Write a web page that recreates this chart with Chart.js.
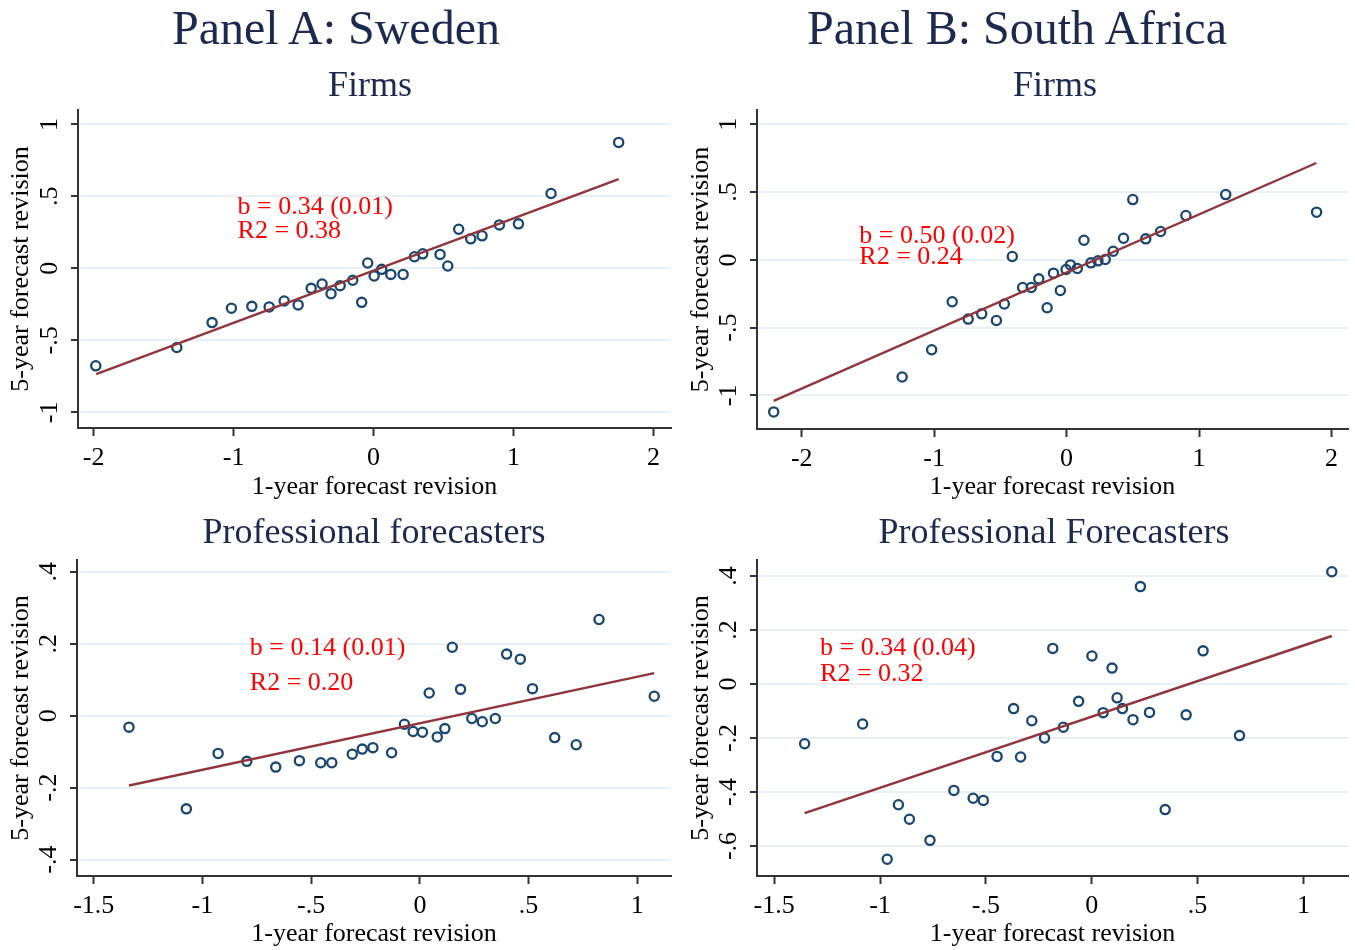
<!DOCTYPE html>
<html>
<head>
<meta charset="utf-8">
<script src="https://cdn.jsdelivr.net/npm/chart.js@4.4.1/dist/chart.umd.min.js"></script>
<style>
  html, body { margin: 0; padding: 0; background: #ffffff; }
  #wrap { position: relative; width: 1355px; height: 950px; overflow: hidden;
          font-family: "Liberation Serif", "Times New Roman", serif; }
  canvas { position: absolute; left: 0; top: 0; }
  .t { position: absolute; white-space: nowrap; color: #1b2a4e; line-height: 1;
       transform: translateX(-50%); z-index: 2; }
  .main { font-size: 48px; }
  .sub { font-size: 36px; }
</style>
</head>
<body>
<div id="wrap">
  <canvas id="cAF" width="1355" height="950"></canvas>
  <canvas id="cBF" width="1355" height="950"></canvas>
  <canvas id="cAP" width="1355" height="950"></canvas>
  <canvas id="cBP" width="1355" height="950"></canvas>
  <div class="t main" style="left:336px; top:4px;">Panel A: Sweden</div>
  <div class="t main" style="left:1017px; top:4px;">Panel B: South Africa</div>
  <div class="t sub" style="left:370px; top:66px;">Firms</div>
  <div class="t sub" style="left:1055px; top:66px;">Firms</div>
  <div class="t sub" style="left:374px; top:513px;">Professional forecasters</div>
  <div class="t sub" style="left:1054px; top:513px;">Professional Forecasters</div>
</div>
<script>
// ---- Panel A: Sweden, firms (binned revisions) ----
const swFirmsX = [-1.985, -1.406, -1.154, -1.016, -0.870, -0.746, -0.639, -0.539, -0.446, -0.368,
                  -0.304, -0.239, -0.149, -0.085, -0.042, 0.004, 0.058, 0.123, 0.211, 0.292,
                  0.351, 0.475, 0.530, 0.608, 0.694, 0.775, 0.899, 1.035, 1.268, 1.751];
const swFirmsY = [-0.677, -0.550, -0.377, -0.277, -0.264, -0.268, -0.227, -0.254, -0.139, -0.109,
                  -0.176, -0.120, -0.083, -0.236, 0.037, -0.053, -0.007, -0.042, -0.042, 0.081,
                  0.101, 0.097, 0.016, 0.272, 0.205, 0.226, 0.302, 0.309, 0.520, 0.875];
const swFirmsFitX = [-1.982, 1.751];
const swFirmsFitY = [-0.735, 0.619];
const swFirmsNote = ['b = 0.34 (0.01)', 'R2 = 0.38'];

// ---- Panel B: South Africa, firms ----
const saFirmsX = [-2.212, -1.242, -1.019, -0.864, -0.743, -0.641, -0.530, -0.470, -0.410, -0.332,
                  -0.267, -0.210, -0.147, -0.099, -0.047, -0.004, 0.029, 0.081, 0.131, 0.184,
                  0.237, 0.292, 0.352, 0.430, 0.500, 0.598, 0.710, 0.901, 1.202, 1.888];
const saFirmsY = [-1.122, -0.864, -0.663, -0.309, -0.437, -0.398, -0.447, -0.326, 0.025, -0.204,
                  -0.204, -0.140, -0.353, -0.098, -0.226, -0.071, -0.037, -0.064, 0.145, -0.022,
                  -0.007, 0.003, 0.064, 0.160, 0.445, 0.155, 0.209, 0.327, 0.482, 0.352];
const saFirmsFitX = [-2.212, 1.886];
const saFirmsFitY = [-1.041, 0.715];
const saFirmsNote = ['b = 0.50 (0.02)', 'R2 = 0.24'];

// ---- Panel A: Sweden, professional forecasters ----
const swProX = [-1.338, -1.074, -0.928, -0.796, -0.663, -0.554, -0.456, -0.405, -0.311, -0.265,
                -0.216, -0.130, -0.071, -0.031, 0.012, 0.043, 0.080, 0.115, 0.149, 0.187,
                0.239, 0.287, 0.347, 0.399, 0.462, 0.518, 0.620, 0.719, 0.824, 1.078];
const swProY = [-0.032, -0.259, -0.105, -0.127, -0.143, -0.125, -0.131, -0.131, -0.107, -0.093,
                -0.089, -0.103, -0.024, -0.044, -0.046, 0.063, -0.059, -0.036, 0.190, 0.073,
                -0.008, -0.017, -0.008, 0.171, 0.157, 0.075, -0.061, -0.081, 0.267, 0.054];
const swProFitX = [-1.338, 1.078];
const swProFitY = [-0.194, 0.118];
const swProNote = ['b = 0.14 (0.01)', 'R2 = 0.20'];

// ---- Panel B: South Africa, professional forecasters ----
const saProX = [-1.356, -1.082, -0.966, -0.913, -0.861, -0.764, -0.651, -0.560, -0.512, -0.447,
                -0.369, -0.336, -0.283, -0.223, -0.184, -0.134, -0.062, 0.001, 0.054, 0.096,
                0.120, 0.145, 0.195, 0.230, 0.273, 0.347, 0.446, 0.526, 0.698, 1.134];
const saProY = [-0.221, -0.148, -0.649, -0.447, -0.501, -0.579, -0.394, -0.423, -0.431, -0.268,
                -0.091, -0.270, -0.136, -0.200, 0.132, -0.160, -0.064, 0.104, -0.106, 0.059,
                -0.051, -0.091, -0.132, 0.361, -0.105, -0.465, -0.114, 0.123, -0.191, 0.416];
const saProFitX = [-1.356, 1.134];
const saProFitY = [-0.478, 0.178];
const saProNote = ['b = 0.34 (0.04)', 'R2 = 0.32'];

// ---- axis ticks and their labels ----
const firmsXTicks = [-2, -1, 0, 1, 2];
const firmsXLabels = ['-2', '-1', '0', '1', '2'];
const firmsYTicks = [-1, -0.5, 0, 0.5, 1];
const firmsYLabels = ['-1', '-.5', '0', '.5', '1'];
const proXTicks = [-1.5, -1, -0.5, 0, 0.5, 1];
const proXLabels = ['-1.5', '-1', '-.5', '0', '.5', '1'];
const swProYTicks = [-0.4, -0.2, 0, 0.2, 0.4];
const swProYLabels = ['-.4', '-.2', '0', '.2', '.4'];
const saProYTicks = [-0.6, -0.4, -0.2, 0, 0.2, 0.4];
const saProYLabels = ['-.6', '-.4', '-.2', '0', '.2', '.4'];

const xTitle = '1-year forecast revision';
const yTitle = '5-year forecast revision';

// ---- drawing ----
const SERIF = '"Liberation Serif", "Times New Roman", serif';
Chart.defaults.font.family = SERIF;
Chart.defaults.color = '#000000';

const NAVY = '#1a476f';
const MAROON = '#90353b';
const AXIS = '#333333';
const GRID = '#e8f0f3';

// red regression note, anchored in data units
const notePlugin = {
  id: 'regNote',
  afterDatasetsDraw(chart, args, opts) {
    if (!opts || !opts.lines) return;
    const { ctx, scales } = chart;
    ctx.save();
    ctx.font = '26px ' + SERIF;
    ctx.fillStyle = '#ff0000';
    ctx.textAlign = 'left';
    ctx.textBaseline = 'alphabetic';
    const px = scales.x.getPixelForValue(opts.x);
    opts.lines.forEach((line, i) => {
      ctx.fillText(line, px, scales.y.getPixelForValue(opts.y[i]));
    });
    ctx.restore();
  }
};

function pts(xs, ys) { return xs.map((v, i) => ({ x: v, y: ys[i] })); }

function panel(id, p) {
  const [L, T, R, B] = p.area;      // plot-region box on the page
  const yW = L - p.originX;         // width reserved for the y axis
  const xH = p.xAxisH;              // height reserved for the x axis
  new Chart(document.getElementById(id), {
    type: 'scatter',
    data: {
      datasets: [
        { type: 'line', data: pts(p.fitX, p.fitY), borderColor: MAROON, borderWidth: 2.4,
          pointRadius: 0, fill: false, tension: 0 },
        { type: 'scatter', data: pts(p.xs, p.ys), pointStyle: 'circle', pointRadius: 4.6,
          borderWidth: 2.3, borderColor: NAVY, backgroundColor: 'rgba(0,0,0,0)' }
      ]
    },
    options: {
      responsive: false, animation: false, events: [],
      layout: { padding: { left: p.originX, top: T, right: 1355 - R, bottom: 950 - B - xH } },
      plugins: { legend: { display: false }, tooltip: { enabled: false },
                 regNote: { lines: p.note, x: p.noteX, y: p.noteY } },
      scales: {
        x: {
          type: 'linear', position: 'bottom', min: p.xMin, max: p.xMax,
          afterBuildTicks: s => { s.ticks = p.xTicks.map(v => ({ value: v })); },
          afterFit: s => { s.height = xH; },
          grid: { display: true, drawOnChartArea: false, drawTicks: true, tickLength: 8,
                  tickColor: AXIS, tickWidth: 2 },
          border: { display: true, color: AXIS, width: 2 },
          ticks: { autoSkip: false, maxRotation: 0, minRotation: 0, padding: 7,
                   font: { size: 26 }, color: '#000',
                   callback: (v, i) => p.xLabels[i] },
          title: { display: true, text: xTitle, font: { size: 26 }, color: '#000',
                   padding: { top: 0, bottom: 0 } }
        },
        y: {
          type: 'linear', position: 'left', min: p.yMin, max: p.yMax,
          afterBuildTicks: s => { s.ticks = p.yTicks.map(v => ({ value: v })); },
          afterFit: s => { s.width = yW; },
          grid: { display: true, drawOnChartArea: true, color: GRID, lineWidth: 2,
                  drawTicks: true, tickLength: 7, tickColor: AXIS, tickWidth: 2 },
          border: { display: true, color: AXIS, width: 2 },
          ticks: { autoSkip: false, minRotation: 90, maxRotation: 90, crossAlign: 'center',
                   padding: 7, font: { size: 26 }, color: '#000',
                   callback: (v, i) => p.yLabels[i] },
          title: { display: true, text: yTitle, font: { size: 26 }, color: '#000',
                   padding: { top: 6, bottom: 0 } }
        }
      }
    },
    plugins: [notePlugin]
  });
}

panel('cAF', {
  area: [78, 110, 671, 428], originX: 0, xAxisH: 75,
  xs: swFirmsX, ys: swFirmsY, fitX: swFirmsFitX, fitY: swFirmsFitY,
  xMin: -2.112, xMax: 2.125, yMin: -1.109, yMax: 1.100,
  xTicks: firmsXTicks, xLabels: firmsXLabels, yTicks: firmsYTicks, yLabels: firmsYLabels,
  note: swFirmsNote, noteX: -0.972, noteY: [0.376, 0.208]
});
panel('cBF', {
  area: [757, 110, 1351, 429], originX: 680, xAxisH: 74,
  xs: saFirmsX, ys: saFirmsY, fitX: saFirmsFitX, fitY: saFirmsFitY,
  xMin: -2.338, xMax: 2.126, yMin: -1.248, yMax: 1.106,
  xTicks: firmsXTicks, xLabels: firmsXLabels, yTicks: firmsYTicks, yLabels: firmsYLabels,
  note: saFirmsNote, noteX: -1.565, noteY: [0.125, -0.027]
});
panel('cAP', {
  area: [77, 560, 671, 876], originX: 0, xAxisH: 74,
  xs: swProX, ys: swProY, fitX: swProFitX, fitY: swProFitY,
  xMin: -1.577, xMax: 1.155, yMin: -0.4456, yMax: 0.4325,
  xTicks: proXTicks, xLabels: proXLabels, yTicks: swProYTicks, yLabels: swProYLabels,
  note: swProNote, noteX: -0.782, noteY: [0.169, 0.070]
});
panel('cBP', {
  area: [757, 560, 1351, 876], originX: 680, xAxisH: 74,
  xs: saProX, ys: saProY, fitX: saProFitX, fitY: saProFitY,
  xMin: -1.581, xMax: 1.211, yMin: -0.711, yMax: 0.4595,
  xTicks: proXTicks, xLabels: proXLabels, yTicks: saProYTicks, yLabels: saProYLabels,
  note: saProNote, noteX: -1.283, noteY: [0.109, 0.011]
});
</script>
</body>
</html>
